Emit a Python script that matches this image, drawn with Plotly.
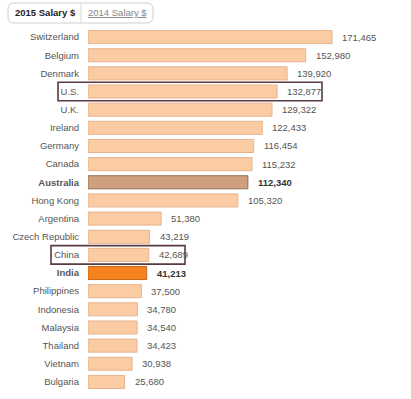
import plotly.graph_objects as go

countries = ["Switzerland", "Belgium", "Denmark", "U.S.", "U.K.", "Ireland", "Germany",
             "Canada", "Australia", "Hong Kong", "Argentina", "Czech Republic", "China",
             "India", "Philippines", "Indonesia", "Malaysia", "Thailand", "Vietnam", "Bulgaria"]
salary_2015 = [171465, 152980, 139920, 132877, 129322, 122433, 116454, 115232, 112340,
               105320, 51380, 43219, 42689, 41213, 37500, 34780, 34540, 34423, 30938, 25680]
bold_countries = ["Australia", "India"]
boxed_countries = ["U.S.", "China"]
tab_labels = ["2015 Salary $", "2014 Salary $"]

W, H = 411, 399
ML, MR, MT, MB = 88, 0, 28, 8
PW, PH = W - ML - MR, H - MT - MB
FONT = "Arial, Liberation Sans, sans-serif"
FS = 9.5

def px(x):
    return (x - ML) / PW

def py(y):
    return (H - MB - y) / PH

fill_map = {"Australia": "#CFA07E", "India": "#F7831F"}
line_map = {"Australia": "#8F6E55", "India": "#C8651A"}
fills = [fill_map.get(c, "#FBCBA4") for c in countries]
lines = [line_map.get(c, "#E6B48F") for c in countries]

fig = go.Figure(go.Bar(
    x=salary_2015, y=countries, orientation="h",
    marker=dict(color=fills, line=dict(color=lines, width=1)),
    hoverinfo="skip",
))

ticktext = [f"<b>{c}</b>" if c in bold_countries else c for c in countries]

annotations = []
for c, v in zip(countries, salary_2015):
    b = c in bold_countries
    annotations.append(dict(
        x=v, y=c, xref="x", yref="y", xanchor="left", yanchor="middle",
        xshift=8, showarrow=False,
        text=f"<b>{v:,}</b>" if b else f"{v:,}",
        font=dict(size=FS, color="#333" if b else "#555", family=FONT),
    ))

# tabs
annotations.append(dict(x=px(45), y=py(13), xref="paper", yref="paper", showarrow=False,
                        text=f"<b>{tab_labels[0]}</b>", xanchor="center", yanchor="middle",
                        font=dict(size=FS, color="#222", family=FONT)))
annotations.append(dict(x=px(117), y=py(13), xref="paper", yref="paper", showarrow=False,
                        text=f"<u>{tab_labels[1]}</u>", xanchor="center", yanchor="middle",
                        font=dict(size=FS, color="#888", family=FONT)))

def rrect(x0, y0, x1, y1, r):
    return (f"M {px(x0+r)},{py(y0)} L {px(x1-r)},{py(y0)} Q {px(x1)},{py(y0)} {px(x1)},{py(y0+r)} "
            f"L {px(x1)},{py(y1-r)} Q {px(x1)},{py(y1)} {px(x1-r)},{py(y1)} "
            f"L {px(x0+r)},{py(y1)} Q {px(x0)},{py(y1)} {px(x0)},{py(y1-r)} "
            f"L {px(x0)},{py(y0+r)} Q {px(x0)},{py(y0)} {px(x0+r)},{py(y0)} Z")

shapes = [
    dict(type="path", xref="paper", yref="paper", path=rrect(8, 3, 153, 23, 6),
         line=dict(color="#cfcfcf", width=1), fillcolor="rgba(0,0,0,0)"),
    dict(type="line", xref="paper", yref="paper", x0=px(81), x1=px(81), y0=py(3), y1=py(23),
         line=dict(color="#d8d8d8", width=1)),
]
box_x = {"U.S.": (58, 322), "China": (51, 185)}
for c in boxed_countries:
    i = countries.index(c)
    shapes.append(dict(type="rect", xref="paper", yref="y",
                       x0=px(box_x[c][0]), x1=px(box_x[c][1]), y0=i - 0.51, y1=i + 0.51,
                       line=dict(color="#5A3A40", width=1.6), fillcolor="rgba(0,0,0,0)"))

fig.update_layout(
    width=W, height=H,
    margin=dict(l=ML, r=MR, t=MT, b=MB, autoexpand=False),
    paper_bgcolor="white", plot_bgcolor="white",
    bargap=0.28,
    showlegend=False,
    xaxis=dict(range=[0, PW / (244 / 171465)], visible=False, fixedrange=True),
    yaxis=dict(categoryorder="array", categoryarray=countries,
               range=[len(countries) - 0.5, -0.5],
               tickvals=countries, ticktext=ticktext, automargin=False,
               ticks="", showline=False, showgrid=False, zeroline=False,
               ticklabelstandoff=8,
               tickfont=dict(size=FS, color="#555", family=FONT)),
    annotations=annotations,
    shapes=shapes,
)

fig.write_html("out.html", config={"displayModeBar": False},
               post_script="document.body.style.margin='0';document.body.style.overflow='hidden';")
